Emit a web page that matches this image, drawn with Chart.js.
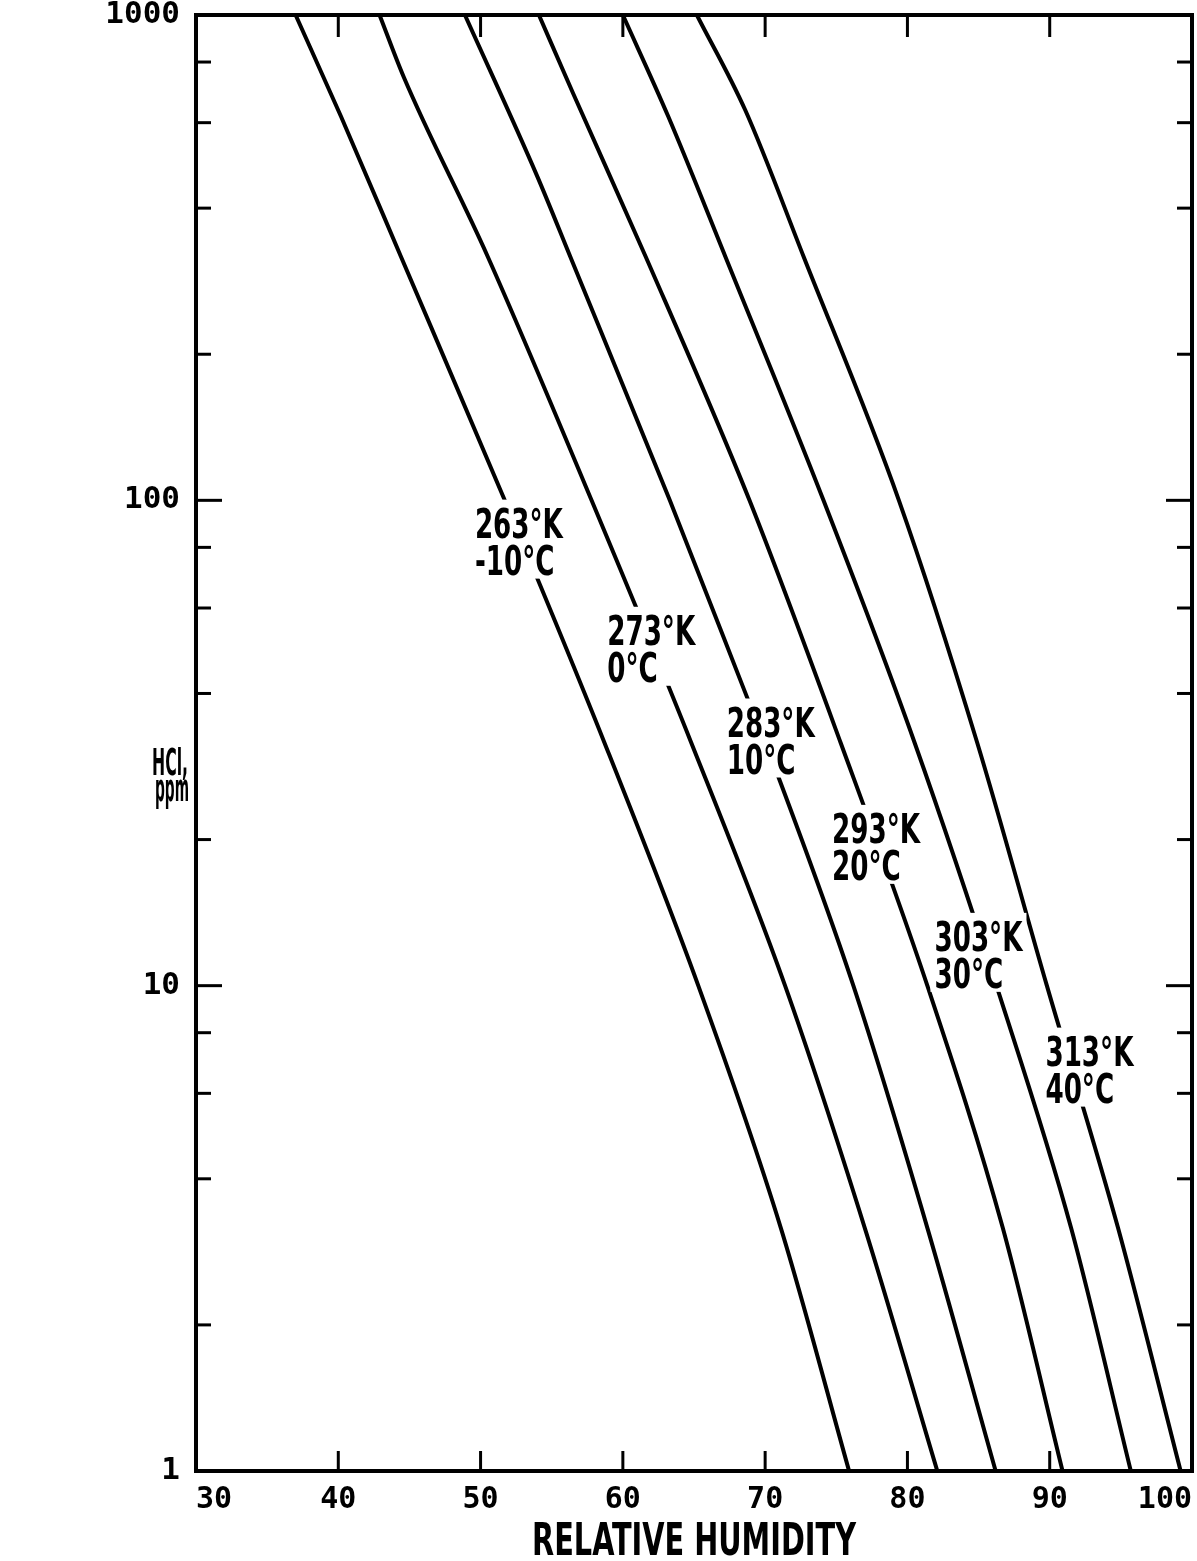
<!DOCTYPE html>
<html lang="en">
<head>
  <meta charset="UTF-8" />
  <title>HCl vs relative humidity</title>
  <script src="https://cdn.jsdelivr.net/npm/chart.js"></script>
  <style>
    html, body { margin: 0; padding: 0; background: #fff; overflow: hidden; }
    #wrap { width: 1197px; height: 1561px; }
    canvas { display: block; }
  </style>
</head>
<body>
  <div id="wrap"><canvas id="chart"></canvas></div>

  <script>
    // axis ticks
    const xTicks = [30, 40, 50, 60, 70, 80, 90, 100];
    const yMajor = [1, 10, 100, 1000];
    const yMinor = [2, 4, 6, 8, 20, 40, 60, 80, 200, 400, 600, 800];

    // curves: relative humidity (%) vs HCl (ppm)
    const rh263  = [37.0, 40.2, 44.4, 51.7, 58.7, 65.3, 71.1, 75.9];
    const ppm263 = [1000, 617, 318, 100, 31.7, 10, 3.17, 1];

    const rh273  = [42.9, 44.6, 50.5, 57.8, 64.8, 71.4, 77.0, 82.1];
    const ppm273 = [1000, 745, 318, 100, 31.7, 10, 3.17, 1];

    const rh283  = [48.9, 54.0, 56.3, 63.3, 68.8, 71.0, 76.2, 81.4, 86.2];
    const ppm283 = [1000, 464, 318, 100, 38.8, 26.6, 10, 3.17, 1];

    const rh293  = [54.1, 56.5, 61.6, 68.9, 75.3, 81.4, 86.7, 90.9];
    const ppm293 = [1000, 690, 318, 100, 31.7, 10, 3.17, 1];

    const rh303  = [60.0, 63.2, 67.2, 74.1, 80.5, 86.5, 91.5, 95.7];
    const ppm303 = [1000, 617, 318, 100, 31.7, 9.5, 3.17, 1];

    const rh313  = [65.2, 68.6, 72.7, 79.4, 84.9, 89.8, 94.8, 99.2];
    const ppm313 = [1000, 637, 318, 100, 31.7, 10, 3.17, 1];

    // curve labels and where they sit (top-left corner, in data units)
    const labelK = ['263°K', '273°K', '283°K', '293°K', '303°K', '313°K'];
    const labelC = ['-10°C', '0°C', '10°C', '20°C', '30°C', '40°C'];
    const labelRH = [49.6, 58.9, 67.3, 74.7, 81.9, 89.7];
    const labelPpm = [96.6, 58.1, 37.6, 22.7, 13.6, 7.89];

    const curves = [
      [rh263, ppm263], [rh273, ppm273], [rh283, ppm283],
      [rh293, ppm293], [rh303, ppm303], [rh313, ppm313]
    ];

    const COND = '"DejaVu Sans Condensed", "DejaVu Sans", sans-serif';
    const MONO = '"DejaVu Sans Mono", monospace';

    function line(ctx, x1, y1, x2, y2) {
      ctx.beginPath();
      ctx.moveTo(x1, y1);
      ctx.lineTo(x2, y2);
      ctx.stroke();
    }

    // text squeezed horizontally to look like the narrow lettering of the original
    function squeezed(ctx, text, x, y, sx, align) {
      ctx.save();
      ctx.translate(x, y);
      ctx.scale(sx, 1);
      ctx.textAlign = align || 'left';
      ctx.fillText(text, 0, 0);
      ctx.restore();
    }

    const decor = {
      id: 'decor',
      afterDatasetsDraw(chart) {
        const { ctx, chartArea: a, scales: { x, y } } = chart;
        ctx.save();

        // curve labels (white box breaks the line behind them)
        ctx.font = 'bold 40px ' + COND;
        ctx.textBaseline = 'alphabetic';
        const s = 88 / ctx.measureText('263°K').width;
        labelK.forEach((k, i) => {
          const px = x.getPixelForValue(labelRH[i]);
          const py = y.getPixelForValue(labelPpm[i]);
          const w = Math.max(ctx.measureText(k).width, ctx.measureText(labelC[i]).width) * s;
          ctx.fillStyle = '#fff';
          ctx.fillRect(px - 4, py - 8, w + 8, 30 + 37 + 12);
          ctx.fillStyle = '#000';
          squeezed(ctx, k, px, py + 30, s);
          squeezed(ctx, labelC[i], px, py + 67, s);
        });

        // inward ticks on all four sides
        ctx.strokeStyle = '#000';
        ctx.lineWidth = 3;
        xTicks.slice(1, -1).forEach(v => {
          const px = x.getPixelForValue(v);
          line(ctx, px, a.bottom, px, a.bottom - 20);
          line(ctx, px, a.top, px, a.top + 22);
        });
        yMajor.slice(1, -1).forEach(v => {
          const py = y.getPixelForValue(v);
          line(ctx, a.left, py, a.left + 26, py);
          line(ctx, a.right, py, a.right - 26, py);
        });
        yMinor.forEach(v => {
          const py = y.getPixelForValue(v);
          line(ctx, a.left, py, a.left + 15, py);
          line(ctx, a.right, py, a.right - 15, py);
        });

        // frame
        ctx.lineWidth = 4;
        ctx.strokeRect(a.left, a.top, a.right - a.left, a.bottom - a.top);

        // axis titles
        ctx.fillStyle = '#000';
        ctx.font = 'bold 44px ' + COND;
        const xt = 'RELATIVE HUMIDITY';
        squeezed(ctx, xt, (a.left + a.right) / 2, a.bottom + 84, 324 / ctx.measureText(xt).width, 'center');

        ctx.font = 'bold 38px ' + COND;
        const cy = (a.top + a.bottom) / 2;
        squeezed(ctx, 'HCl,', a.left - 26, cy + 32, 36 / ctx.measureText('HCl,').width, 'center');
        squeezed(ctx, 'ppm', a.left - 24, cy + 58, 34 / ctx.measureText('ppm').width, 'center');

        ctx.restore();
      }
    };

    new Chart(document.getElementById('chart'), {
      type: 'scatter',
      data: {
        datasets: curves.map(([rh, ppm], i) => ({
          label: labelK[i],
          data: rh.map((v, j) => ({ x: v, y: ppm[j] })),
          showLine: true,
          borderColor: '#000',
          borderWidth: 4,
          pointRadius: 0,
          cubicInterpolationMode: 'monotone'
        }))
      },
      options: {
        responsive: true,
        maintainAspectRatio: false,
        animation: false,
        layout: { padding: { top: 15, right: 5, left: 0, bottom: 0 } },
        plugins: { legend: { display: false }, tooltip: { enabled: false } },
        scales: {
          x: {
            type: 'linear',
            min: 30,
            max: 100,
            afterBuildTicks: s => { s.ticks = xTicks.map(v => ({ value: v })); },
            ticks: {
              align: 'inner',
              padding: 14,
              color: '#000',
              font: { family: MONO, weight: 'bold', size: 30, lineHeight: 1 }
            },
            grid: { display: false, drawTicks: false },
            border: { display: false },
            afterFit: s => { s.height = 90; s.paddingLeft = 0; s.paddingRight = 0; }
          },
          y: {
            type: 'logarithmic',
            min: 1,
            max: 1000,
            afterBuildTicks: s => { s.ticks = yMajor.map(v => ({ value: v })); },
            ticks: {
              padding: 16,
              color: '#000',
              callback: v => String(v),
              font: { family: MONO, weight: 'bold', size: 31, lineHeight: 1 }
            },
            grid: { display: false, drawTicks: false },
            border: { display: false },
            afterFit: s => { s.width = 196; s.paddingTop = 0; s.paddingBottom = 0; }
          }
        }
      },
      plugins: [decor]
    });
  </script>
</body>
</html>
